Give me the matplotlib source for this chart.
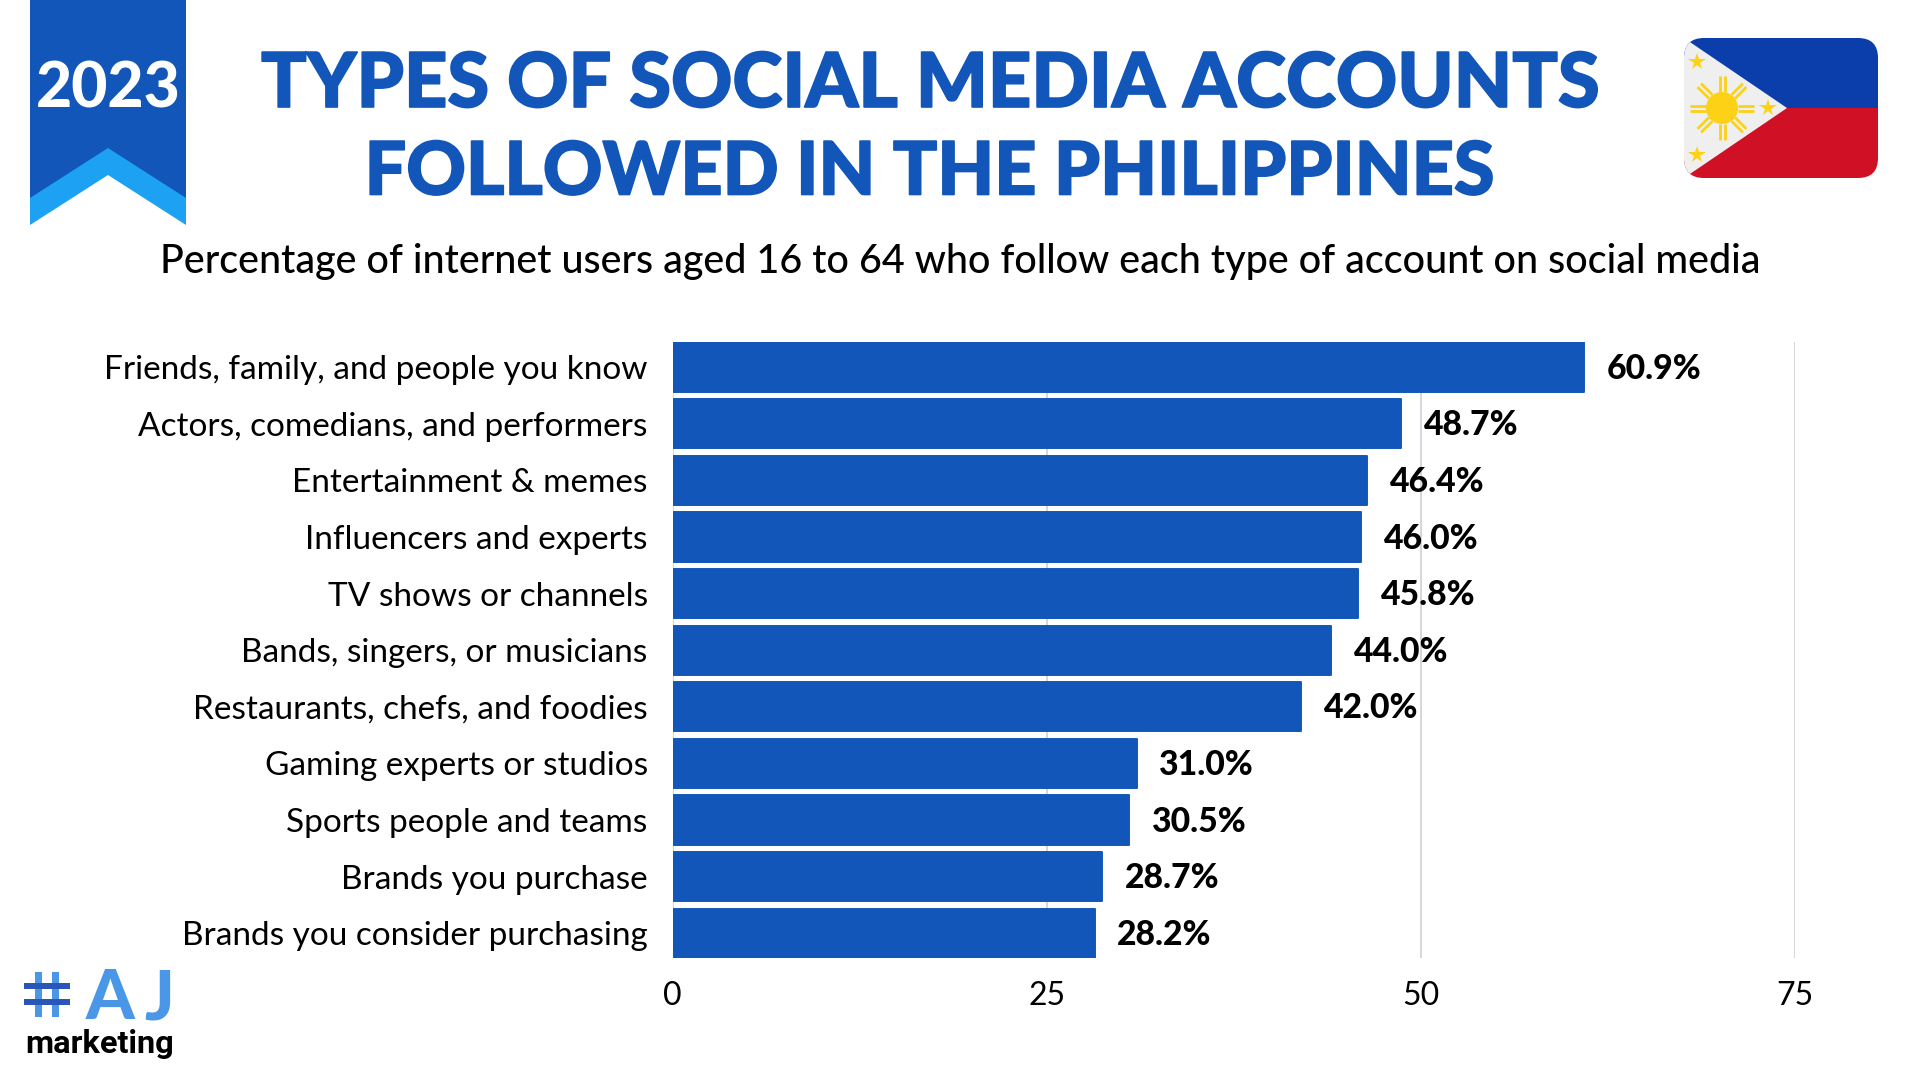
#Types of social media accounts followed in the Philippines
import matplotlib
matplotlib.use('Agg')
import matplotlib.pyplot as plt
import matplotlib.patheffects as pe
from matplotlib.patches import Polygon, Rectangle, FancyBboxPatch, Circle
import numpy as np

categories = ['Friends, family, and people you know', 'Actors, comedians, and performers',
              'Entertainment & memes', 'Influencers and experts', 'TV shows or channels',
              'Bands, singers, or musicians', 'Restaurants, chefs, and foodies',
              'Gaming experts or studios', 'Sports people and teams', 'Brands you purchase',
              'Brands you consider purchasing']
values = [60.9, 48.7, 46.4, 46.0, 45.8, 44.0, 42.0, 31.0, 30.5, 28.7, 28.2]
x_ticks = [0, 25, 50, 75]

BLUE = '#1156B8'
plt.rcParams['font.family'] = ['Lato', 'DejaVu Sans']

fig = plt.figure(figsize=[19.2, 10.8], dpi=100)

# pixel canvas for the title, ribbon, flag and logo
bg = fig.add_axes([0, 0, 1, 1])
bg.set_xlim(0, 1920)
bg.set_ylim(1080, 0)
bg.axis('off')

# ribbon
bg.add_patch(Polygon([(30, 0), (186, 0), (186, 200), (108, 150), (30, 200)], color=BLUE, lw=0))
bg.add_patch(Polygon([(30, 198), (108, 148), (186, 198), (186, 225), (108, 175), (30, 225)], color='#1DA1F2', lw=0))
bg.text(108, 90, '2023', color='white', fontsize=45, fontweight='black', ha='center', va='center')

# title
bold = [pe.withStroke(linewidth=1.2, foreground=BLUE)]
bg.text(931, 85, 'TYPES OF SOCIAL MEDIA ACCOUNTS', color=BLUE, fontsize=54.5, fontweight='black',
        ha='center', va='center', path_effects=bold)
bg.text(930, 173, 'FOLLOWED IN THE PHILIPPINES', color=BLUE, fontsize=53, fontweight='black',
        ha='center', va='center', path_effects=bold)
bg.text(960, 262, 'Percentage of internet users aged 16 to 64 who follow each type of account on social media',
        color='black', fontsize=28.45, fontweight='medium', ha='center', va='center')

# flag
frame = FancyBboxPatch((1684, 38), 194, 140, boxstyle='round,pad=0,rounding_size=20', fc='none', ec='none')
bg.add_patch(frame)
flag_parts = [Rectangle((1684, 38), 194, 70, color='#0B3DAB', lw=0),
              Rectangle((1684, 108), 194, 70, color='#D01024', lw=0),
              Polygon([(1684, 38), (1787, 108), (1684, 178)], color='#EFEFEF', lw=0)]
for part in flag_parts:
    bg.add_patch(part)
    part.set_clip_path(frame)
for angle in np.arange(0, 360, 45):
    dx, dy = np.cos(np.radians(angle)), np.sin(np.radians(angle))
    for off in [-2.5, 2.5]:
        bg.plot([1722 + 16 * dx - off * dy, 1722 + 32 * dx - off * dy],
                [108 + 16 * dy + off * dx, 108 + 32 * dy + off * dx], color='#FCD116', lw=2, solid_capstyle='butt')
bg.add_patch(Circle((1722, 108), 16, color='#FCD116', lw=0))
bg.plot([1697, 1697, 1768], [62, 155, 108], ls='none', marker='*', ms=13, color='#FCD116', mew=0)

# logo
bg.add_patch(Rectangle((35, 972), 7, 45, color='#4A97E8', lw=0))
bg.add_patch(Rectangle((52, 972), 7, 45, color='#4A97E8', lw=0))
bg.add_patch(Rectangle((24, 983), 46, 6, color='#2A56B8', lw=0))
bg.add_patch(Rectangle((24, 999), 46, 6, color='#2A56B8', lw=0))
bg.text(110, 1019, 'A', color='#4A97E8', fontsize=50, fontweight='black', ha='center', va='baseline')
bg.text(159, 1019, 'J', color='#4A97E8', fontsize=50, fontweight='black', ha='center', va='baseline')
bg.text(100, 1044, 'marketing', color='black', fontsize=23.4, fontweight='bold', family='Roboto', ha='center', va='center')

# chart
ax = fig.add_axes([672.7 / 1920, 1 - 958.3 / 1080, (1795 - 672.7) / 1920, (958.3 - 342) / 1080])
ax.patch.set_alpha(0)
y_pos = np.arange(len(categories))
ax.barh(y_pos, values, height=0.87, color=BLUE, edgecolor=BLUE, linewidth=1.4, joinstyle='round', zorder=3)
ax.set_xlim(0, 75)
ax.set_ylim(len(categories) - 1 + 0.4417, -0.4417)
ax.set_xticks(x_ticks)
ax.set_yticks(y_pos)
ax.set_yticklabels(categories)
ax.grid(axis='x', color='#D3D3D3', lw=1.3, zorder=0)
ax.tick_params(axis='x', length=0, labelsize=23, pad=16)
ax.tick_params(axis='y', length=0, labelsize=24, pad=18)
for spine in ax.spines.values():
    spine.set_visible(False)

for i, val in enumerate(values):
    ax.text(val + 1.5, i + 0.03, '%.1f%%' % val, fontsize=24.3, fontweight='black', color='black',
            va='center', ha='left', zorder=4)

plt.savefig('out.png', dpi=100, format='png')
